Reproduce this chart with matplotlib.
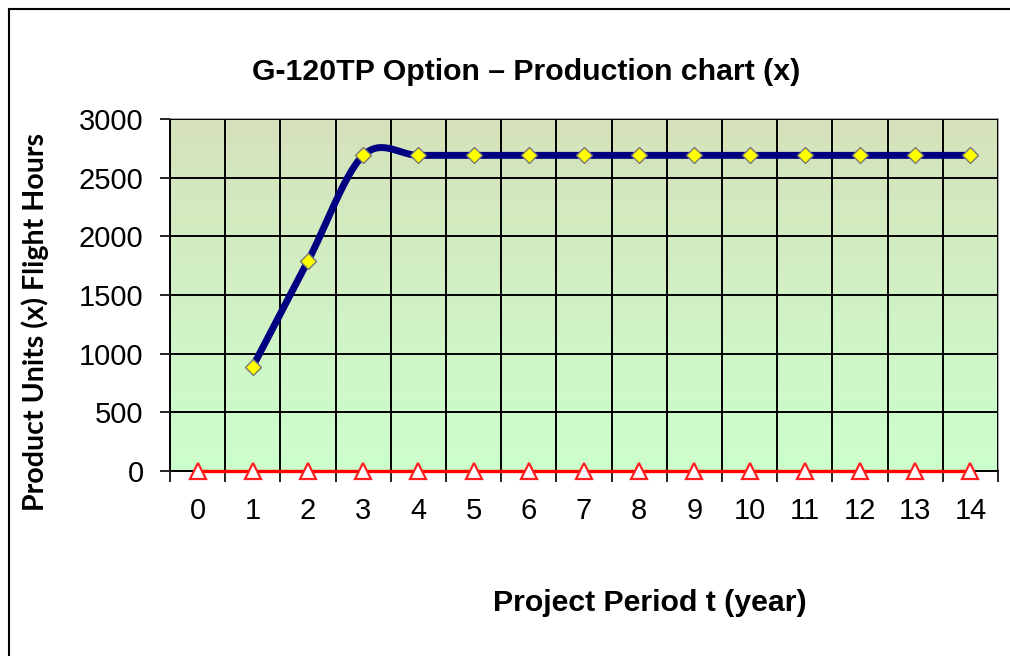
import numpy as np
import matplotlib.pyplot as plt
from matplotlib.lines import Line2D

# data
years = list(range(0, 15))
prod_years = list(range(1, 15))
production = [890, 1790, 2690, 2690, 2690, 2690, 2690, 2690, 2690, 2690, 2690, 2690, 2690, 2690]
baseline = [0] * 15
y_ticks = [0, 500, 1000, 1500, 2000, 2500, 3000]

title = "G-120TP Option \u2013 Production chart (x)"
xlabel = "Project Period t (year)"
ylabel = "Product Units (x) Flight Hours"


def smooth(xs, ys, n=30):
    # excel-like smoothed line (catmull-rom bezier)
    xs = np.asarray(xs, float)
    ys = np.asarray(ys, float)
    px, py = [], []
    for i in range(len(xs) - 1):
        i0 = max(i - 1, 0)
        i3 = min(i + 2, len(xs) - 1)
        p0 = np.array([xs[i], ys[i]])
        p3 = np.array([xs[i + 1], ys[i + 1]])
        c1 = p0 + (p3 - np.array([xs[i0], ys[i0]])) / 6.0
        c2 = p3 - (np.array([xs[i3], ys[i3]]) - p0) / 6.0
        t = np.linspace(0, 1, n)[:, None]
        pts = (1 - t) ** 3 * p0 + 3 * (1 - t) ** 2 * t * c1 + 3 * (1 - t) * t ** 2 * c2 + t ** 3 * p3
        px.extend(pts[:, 0])
        py.extend(pts[:, 1])
    return px, py


plt.rcParams['font.family'] = ['Liberation Sans', 'DejaVu Sans']

fig = plt.figure(figsize=(10.1, 6.56), dpi=100)
ax = fig.add_axes([170 / 1010, 1 - 471 / 656, 828 / 1010, 352 / 656])

# gradient background
top = np.array([214, 226, 187]) / 255
bot = np.array([204, 255, 204]) / 255
grad = np.linspace(0, 1, 256)[:, None, None]
img = top * (1 - grad) + bot * grad
ax.imshow(img, extent=[-0.5, 14.5, 0, 3000], aspect='auto', origin='upper', zorder=0)

ax.set_xlim(-0.5, 14.5)
ax.set_ylim(0, 3000)

# grid
ax.set_xticks(np.arange(-0.5, 15, 1))
ax.set_xticklabels([])
ax.set_xticks(years, minor=True)
ax.set_xticklabels([str(y) for y in years], minor=True)
ax.set_yticks(y_ticks)
ax.grid(True, which='major', color='black', linewidth=1.4, zorder=1)
ax.set_axisbelow(False)

ax.tick_params(axis='x', which='major', direction='out', length=8, width=1.4, color='#222222')
ax.tick_params(axis='x', which='minor', length=0, pad=19, labelsize=21)
ax.tick_params(axis='y', direction='out', length=7, width=1.4, pad=12, labelsize=21, color='#222222')

for s in ['top', 'right']:
    ax.spines[s].set_color('#999999')
    ax.spines[s].set_linewidth(1.2)
for s in ['left', 'bottom']:
    ax.spines[s].set_color('black')
    ax.spines[s].set_linewidth(1.4)

sx, sy = smooth(prod_years, production)
ax.plot(sx, sy, color='#000080', linewidth=5, zorder=3, solid_capstyle='round')
ax.plot(prod_years, production, linestyle='none', marker='D', markersize=8.5,
        markerfacecolor='#FFFF00', markeredgecolor='#777777', markeredgewidth=1, zorder=4)

ax.plot(years, baseline, color='#FF0000', linewidth=2.4, marker='^', markersize=12,
        markerfacecolor='white', markeredgecolor='#FF2020', markeredgewidth=1.6,
        zorder=5, clip_on=False)

fig.text(526 / 1010, 1 - 72 / 656, title, ha='center', va='center', fontsize=21.8, fontweight='bold')
fig.text(650 / 1010, 1 - 603 / 656, xlabel, ha='center', va='center', fontsize=21.8, fontweight='bold')
fig.text(35 / 1010, 1 - 322 / 656, ylabel, ha='center', va='center', rotation=90,
         fontsize=20.6, fontweight='bold', family=['Lato', 'DejaVu Sans'])

# outer chart frame
fig.add_artist(Line2D([9 / 1010, 9 / 1010], [0, 1 - 9 / 656], color='black', linewidth=1.5))
fig.add_artist(Line2D([9 / 1010, 1], [1 - 9 / 656, 1 - 9 / 656], color='black', linewidth=1.5))

fig.savefig('out.png', dpi=100)
